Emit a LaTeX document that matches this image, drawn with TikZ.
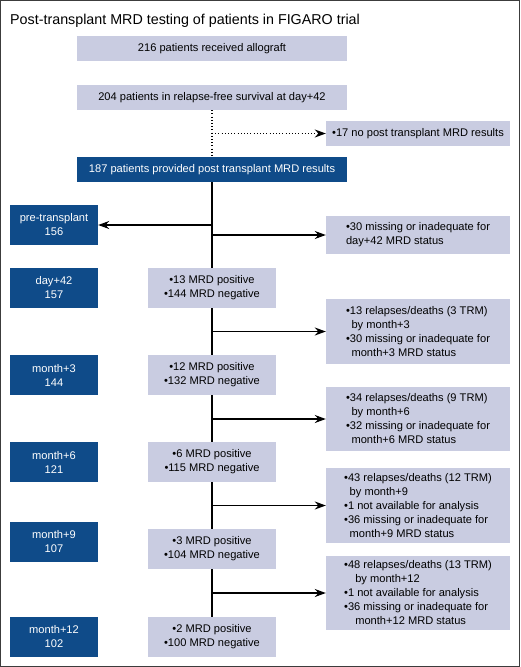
\documentclass[tikz,border=0pt]{standalone}
\usepackage{fontspec}
\setmainfont{Liberation Sans}
\usetikzlibrary{arrows.meta}
\definecolor{bleuF}{RGB}{15,75,137}
\definecolor{grisF}{RGB}{201,204,225}
\definecolor{cadreF}{RGB}{60,60,60}
\newcommand{\retrait}{\hspace*{0.5em}}
\begin{document}
\begin{tikzpicture}  % ------ Suivi MRD apres greffe, essai FIGARO --------
      [x=1pt,y=-1pt,
       boite/.style={fill=grisF,inner sep=0pt,align=center,
                     font={\fontsize{11.1}{14}\selectfont}},
       bleue/.style={boite,fill=bleuF,text=white,minimum width=88,minimum height=40},
       droite/.style={boite,align=left,minimum width=184},
       mrd/.style={boite,minimum width=128,minimum height=40},
       trait/.style={line width=1.2pt},
       fleche/.style={trait,-{Stealth[length=11pt,width=8pt]}},
       pointille/.style={trait,dash pattern=on 1pt off 2.2pt}]
    \useasboundingbox (0,0) rectangle (520,667);
    \draw[line width=1pt,cadreF] (0.5,0.5) rectangle (519.5,666.5) ;
    \node[anchor=base west,inner sep=0pt,font={\fontsize{14.3}{17}\selectfont}]
        (T) at (10,24.5) {Post-transplant MRD testing of patients in FIGARO trial} ;
    % colonne centrale
    \node[boite,minimum width=270,minimum height=25] (A1) at (212,48.5)
        {216 patients received allograft} ;
    \node[boite,minimum width=270,minimum height=25] (A2) at (212,97.5)
        {204 patients in relapse-free survival at day+42} ;
    \node[boite,fill=bleuF,text=white,minimum width=270,minimum height=25] (A3) at (212,169.5)
        {187 patients provided post transplant MRD results} ;
    \node[mrd] (C1) at (212,288) {•13 MRD positive\\•144 MRD negative} ;
    \node[mrd] (C2) at (212,375) {•12 MRD positive\\•132 MRD negative} ;
    \node[mrd] (C3) at (212,462) {•6 MRD positive\\•115 MRD negative} ;
    \node[mrd] (C4) at (212,549) {•3 MRD positive\\•104 MRD negative} ;
    \node[mrd] (C5) at (212,637) {•2 MRD positive\\•100 MRD negative} ;
    % colonne de gauche
    \node[bleue] (B0) at (54,225) {pre-transplant\\156} ;
    \node[bleue] (B1) at (54,288) {day+42\\157} ;
    \node[bleue] (B2) at (54,375) {month+3\\144} ;
    \node[bleue] (B3) at (54,462) {month+6\\121} ;
    \node[bleue] (B4) at (54,542) {month+9\\107} ;
    \node[bleue] (B5) at (54,637) {month+12\\102} ;
    % colonne de droite
    \node[droite,minimum height=25] (E0) at (418,133.5) {•17 no post transplant MRD results} ;
    \node[droite,minimum height=38] (E1) at (418,235)
        {•30 missing or inadequate for\\day+42 MRD status} ;
    \node[droite,minimum height=65] (E2) at (418,331.5)
        {•13 relapses/deaths (3 TRM)\\\retrait by month+3\\•30 missing or inadequate for\\\retrait month+3 MRD status} ;
    \node[droite,minimum height=64] (E3) at (418,419)
        {•34 relapses/deaths (9 TRM)\\\retrait by month+6\\•32 missing or inadequate for\\\retrait month+6 MRD status} ;
    \node[droite,minimum height=75] (E4) at (418,505.5)
        {•43 relapses/deaths (12 TRM)\\\retrait by month+9\\•1 not available for analysis\\•36 missing or inadequate for\\\retrait month+9 MRD status} ;
    \node[droite,minimum height=74] (E5) at (418,593)
        {•48 relapses/deaths (13 TRM)\\\retrait\retrait by month+12\\•1 not available for analysis\\•36 missing or inadequate for\\\retrait\retrait month+12 MRD status} ;
    % liaisons
    \draw[pointille] (A2) -- (A3) ;
    \draw[pointille,fleche] (A2 |- E0) -- (E0) ;
    \draw[trait] (A3) -- (C1) ;
    \draw[fleche] (A3 |- B0) -- (B0) ;
    \draw[fleche] (A3 |- E1) -- (E1) ;
    \draw[trait] (C1) -- (C2) ;  \draw[fleche] (C1 |- E2) -- (E2) ;
    \draw[trait] (C2) -- (C3) ;  \draw[fleche] (C2 |- E3) -- (E3) ;
    \draw[trait] (C3) -- (C4) ;  \draw[fleche] (C3 |- E4) -- (E4) ;
    \draw[trait] (C4) -- (C5) ;  \draw[fleche] (C4 |- E5) -- (E5) ;
\end{tikzpicture}
\end{document}
